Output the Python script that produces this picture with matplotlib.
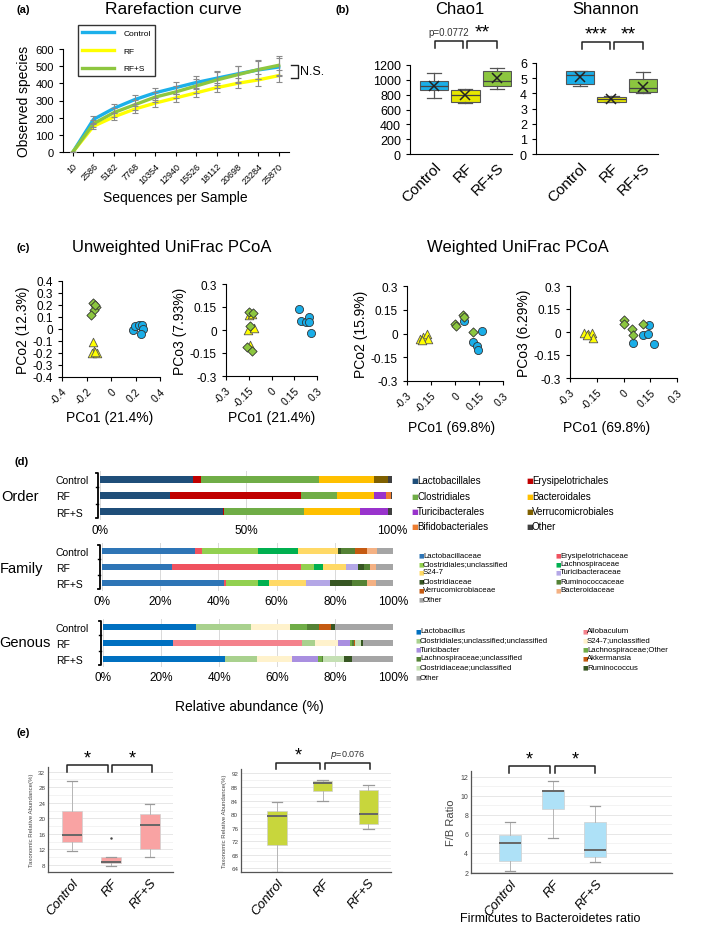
import numpy as np
import matplotlib
matplotlib.use('Agg')
import matplotlib.pyplot as plt
from matplotlib.lines import Line2D

plt.rcParams['font.family'] = ['Liberation Sans', 'DejaVu Sans']
plt.rcParams['axes.linewidth'] = 0.8

# ---------------- data ----------------
groups = ['Control', 'RF', 'RF+S']
grp_colors = ['#1cb0ea', '#ffff00', '#8dc63f']
box_colors_b = ['#1aaee8', '#e6e600', '#8cc63f']

# (a) rarefaction
seq_depth = ['10', '2586', '5182', '7768', '10354', '12940', '15526',
             '18112', '20698', '23284', '25870']
rare_ctrl = [0, 190, 255, 305, 345, 375, 405, 430, 455, 478, 495]
rare_rf = [0, 150, 205, 250, 285, 315, 345, 375, 400, 420, 445]
rare_rfs = [0, 165, 230, 275, 320, 350, 385, 420, 450, 480, 505]
err_ctrl = [0, 20, 25, 25, 30, 35, 38, 40, 45, 50, 50]
err_rf = [0, 15, 20, 20, 20, 25, 25, 25, 30, 35, 35]
err_rfs = [0, 20, 25, 28, 30, 35, 40, 45, 50, 55, 55]

# (b) alpha diversity boxes
chao1_lo = [760, 690, 870]
chao1_q1 = [860, 700, 920]
chao1_med = [920, 790, 985]
chao1_q3 = [990, 860, 1115]
chao1_hi = [1090, 880, 1165]
chao1_mean = [920, 790, 1020]
shan_lo = [4.5, 3.4, 4.05]
shan_q1 = [4.6, 3.45, 4.1]
shan_med = [5.2, 3.6, 4.35]
shan_q3 = [5.45, 3.75, 4.92]
shan_hi = [5.5, 3.8, 5.38]
shan_mean = [5.05, 3.6, 4.45]

# (c) PCoA coordinates
uw_ctrl_pc1 = [0.18, 0.196, 0.23, 0.25, 0.26, 0.245]
uw_ctrl_pc2 = [-0.01, 0.025, 0.033, 0.033, 0.0, -0.04]
uw_ctrl_pc3 = [0.137, 0.06, 0.052, 0.085, -0.02, 0.055]
uw_rf_pc1 = [-0.15, -0.14, -0.155, -0.115, -0.13]
uw_rf_pc2 = [-0.11, -0.18, -0.2, -0.2, -0.19]
uw_rf_pc3 = [0.1, -0.1, 0.0, 0.01, 0.105]
uw_rfs_pc1 = [-0.15, -0.12, -0.14, -0.16, -0.13]
uw_rfs_pc2 = [0.22, 0.18, 0.16, 0.12, 0.2]
uw_rfs_pc3 = [0.118, 0.11, 0.025, -0.11, -0.14]

w_ctrl_pc1 = [0.055, 0.11, 0.135, 0.145, 0.17]
w_ctrl_pc2 = [0.08, -0.055, -0.08, -0.105, 0.015]
w_ctrl_pc3 = [-0.07, -0.02, -0.015, 0.045, -0.08]
w_rf_pc1 = [-0.22, -0.2, -0.175, -0.17, -0.205]
w_rf_pc2 = [-0.035, -0.02, 0.0, -0.035, -0.04]
w_rf_pc3 = [-0.005, -0.01, -0.005, -0.04, -0.02]
w_rfs_pc1 = [0.0, 0.005, 0.05, 0.055, 0.11]
w_rfs_pc2 = [0.06, 0.045, 0.12, 0.105, 0.01]
w_rfs_pc3 = [0.076, 0.05, 0.02, -0.02, 0.05]

# (d) relative abundance (%)
order_taxa = ['Lactobacillales', 'Erysipelotrichales', 'Clostridiales', 'Bacteroidales',
              'Turicibacterales', 'Verrucomicrobiales', 'Bifidobacteriales', 'Other']
order_colors = ['#1f4e79', '#c00000', '#70ad47', '#ffc000',
                '#9933cc', '#7f6000', '#ed7d31', '#404040']
order_ctrl = [32, 2.5, 40.5, 19, 0, 4.5, 0, 1.5]
order_rf = [24, 45, 12, 13, 4, 0, 1.5, 0.5]
order_rfs = [42, 0.5, 27.5, 19, 9.5, 0, 0, 1.5]

family_taxa = ['Lactobacillaceae', 'Erysipelotrichaceae', 'Clostridiales;unclassified',
               'Lachnospiraceae', 'S24-7', 'Turicibacteraceae', 'Clostridiaceae',
               'Ruminococcaceae', 'Verrucomicrobiaceae', 'Bacteroidaceae', 'Other']
family_colors = ['#2e75b6', '#f0525f', '#92d050', '#00b050', '#ffd966', '#b4a7e6',
                 '#375623', '#548235', '#c55a11', '#f4b183', '#a5a5a5']
family_ctrl = [32, 2.5, 19, 14, 13.5, 0, 1, 5, 4, 3.5, 5.5]
family_rf = [24, 44.5, 4.5, 3, 8, 4, 2, 2, 0, 2, 6]
family_rfs = [42, 0.5, 11, 4, 12.5, 8.5, 7.5, 5, 0, 3, 6]

genus_taxa = ['Lactobacillus', 'Allobaculum', 'Clostridiales;unclassified;unclassified',
              'S24-7;unclassified', 'Turicibacter', 'Lachnospiraceae;Other',
              'Lachnospiraceae;unclassified', 'Akkermansia', 'Clostridiaceae;unclassified',
              'Ruminococcus', 'Other']
genus_colors = ['#0070c0', '#f4828c', '#a9d18e', '#fff2cc', '#a98fe0', '#70ad47',
                '#548235', '#c55a11', '#c5e0b4', '#375623', '#a5a5a5']
genus_ctrl = [32, 0, 19, 13.5, 0, 6, 4, 4, 0, 1.5, 20]
genus_rf = [24, 44.5, 4.5, 8, 4, 1, 0.5, 0.5, 2, 0.5, 10.5]
genus_rfs = [42, 0, 11, 12, 9, 1.5, 0.5, 0, 7, 3, 14]

# (e) phylum-level boxes
e1_lo = [11.5, 7.8, 10.0]
e1_q1 = [13.8, 8.4, 12.0]
e1_med = [15.8, 8.7, 18.2]
e1_q3 = [22.0, 10.0, 21.2]
e1_hi = [29.5, 10.1, 23.8]
e1_out = [[], [15.0], []]
e2_lo = [63, 84, 75.5]
e2_q1 = [71, 86.8, 77]
e2_med = [79.5, 89.2, 80]
e2_q3 = [81, 89.8, 87]
e2_hi = [83.5, 90, 88.5]
e3_lo = [2.1, 5.6, 3.1]
e3_q1 = [3.2, 8.6, 3.6]
e3_med = [5.0, 10.55, 4.35]
e3_q3 = [5.9, 10.65, 7.2]
e3_hi = [7.2, 11.6, 8.9]

# ---------------- figure helpers ----------------
W, H = 709, 928
fig = plt.figure(figsize=(W / 100, H / 100), dpi=100)


def add_ax(l, t, r, b):
    return fig.add_axes([l / W, 1 - b / H, (r - l) / W, (b - t) / H])


def ftext(x, y, s, **kw):
    kw.setdefault('va', 'center')
    fig.text(x / W, 1 - y / H, s, **kw)


def fline(xs, ys, **kw):
    fig.add_artist(Line2D([x / W for x in xs], [1 - y / H for y in ys], **kw))


def bracket(ax, x1, x2, y, h, text, ty, fs, **kw):
    ax.plot([x1, x1, x2, x2], [y - h, y, y, y - h], color='#222222', lw=1.1, clip_on=False)
    ax.text((x1 + x2) / 2, ty, text, ha='center', va='center', fontsize=fs, **kw)


def make_stats(lo, q1, med, q3, hi, mean=None, fliers=None):
    out = []
    for i in range(len(lo)):
        d = dict(whislo=lo[i], q1=q1[i], med=med[i], q3=q3[i], whishi=hi[i],
                 fliers=fliers[i] if fliers else [])
        if mean is not None:
            d['mean'] = mean[i]
        out.append(d)
    return out


def simple_spines(ax):
    ax.spines['top'].set_visible(False)
    ax.spines['right'].set_visible(False)


# ---------------- (a) rarefaction ----------------
ftext(23, 10, '(a)', fontsize=8, fontweight='bold', ha='center')
ftext(173, 10, 'Rarefaction curve', fontsize=12.5, ha='center')
ax = add_ax(63, 50, 289, 153)
x = np.arange(len(seq_depth))
lines = []
for vals, col, lab in zip([rare_ctrl, rare_rf, rare_rfs], grp_colors, groups):
    ln, = ax.plot(x, vals, color=col, lw=2.4, label=lab, zorder=2)
    lines.append(ln)
for vals, err in zip([rare_ctrl, rare_rf, rare_rfs], [err_ctrl, err_rf, err_rfs]):
    ax.errorbar(x, vals, yerr=err, fmt='none', ecolor='#8a8a8a', elinewidth=0.8,
                capsize=2.2, capthick=0.8, zorder=3)
ax.set_xlim(-0.48, 10.5)
ax.set_ylim(0, 600)
ax.set_yticks(range(0, 601, 100))
ax.set_xticks(x, seq_depth, rotation=45, ha='right', rotation_mode='anchor', fontsize=6.5)
ax.tick_params(axis='y', labelsize=8, length=3)
ax.tick_params(axis='x', length=3)
simple_spines(ax)
ax.set_ylabel('Observed species', fontsize=10, labelpad=3)
ftext(175, 198, 'Sequences per Sample', fontsize=10, ha='center')
fig.legend(handles=lines, loc='upper left', bbox_to_anchor=(74 / W, 1 - 22 / H),
           fontsize=6, frameon=True, fancybox=False, edgecolor='black',
           handlelength=3.8, labelspacing=1.2, borderpad=0.45, handletextpad=1.2)
# N.S. bracket
ax.plot([10.58, 10.95, 10.95, 10.58], [507, 507, 432, 432], color='#222222', lw=1, clip_on=False)
ax.text(11.05, 470, 'N.S.', fontsize=9, va='center', ha='left')

# ---------------- (b) alpha diversity ----------------
ftext(343, 10, '(b)', fontsize=8, fontweight='bold', ha='center')


def alpha_box(ax, stats, ylim, yticks):
    bp = ax.bxp(stats, positions=[0, 1, 2], widths=0.9, patch_artist=True, showmeans=True,
                showfliers=False,
                boxprops=dict(edgecolor='#555555', linewidth=0.8),
                medianprops=dict(color='#444444', linewidth=0.9),
                whiskerprops=dict(color='#555555', linewidth=0.9),
                capprops=dict(color='#555555', linewidth=0.9),
                meanprops=dict(marker='x', markeredgecolor='#222222', markersize=7,
                               markeredgewidth=1.1))
    for patch, c in zip(bp['boxes'], box_colors_b):
        patch.set_facecolor(c)
    ax.set_ylim(*ylim)
    ax.set_yticks(yticks)
    ax.set_xticks([0, 1, 2], groups, rotation=45, ha='right', rotation_mode='anchor',
                  fontsize=11)
    ax.tick_params(axis='y', labelsize=9, length=3)
    ax.tick_params(axis='x', length=0, pad=4)
    simple_spines(ax)


ftext(460, 10, 'Chao1', fontsize=12, ha='center')
ax = add_ax(410, 66, 512, 155)
alpha_box(ax, make_stats(chao1_lo, chao1_q1, chao1_med, chao1_q3, chao1_hi, chao1_mean),
          (0, 1200), range(0, 1201, 200))
ax.set_xlim(-0.76, 2.48)
bracket(ax, 0.03, 0.92, 1523, 95, 'p=0.0772', 1640, 7, color='#333333')
bracket(ax, 1.05, 2.0, 1523, 95, '**', 1640, 14)

ftext(606, 10, 'Shannon', fontsize=12, ha='center')
ax = add_ax(536, 64, 658, 155)
alpha_box(ax, make_stats(shan_lo, shan_q1, shan_med, shan_q3, shan_hi, shan_mean),
          (0, 6), range(0, 7))
ax.set_xlim(-1.4, 2.48)
bracket(ax, 0.06, 0.95, 7.4, 0.45, '***', 7.9, 14)
bracket(ax, 1.07, 1.99, 7.4, 0.45, '**', 7.9, 14)

# ---------------- (c) PCoA ----------------
ftext(23, 248, '(c)', fontsize=8, fontweight='bold', ha='center')
ftext(172, 248, 'Unweighted UniFrac PCoA', fontsize=12, ha='center')
ftext(518, 248, 'Weighted UniFrac PCoA', fontsize=12, ha='center')


def pcoa(box, xs, ys, lim, ticks, ylab, xlab, xlab_x, xlab_y):
    ax = add_ax(*box)
    specs = [('o', '#1aaee8', 34, '#333333'), ('^', '#ffff00', 38, '#555555'),
             ('D', '#8cc63f', 22, '#333333')]
    for (m, c, s, ec), xv, yv in zip(specs, xs, ys):
        ax.scatter(xv, yv, marker=m, s=s, color=c, edgecolors=ec, linewidths=0.6, zorder=3)
    ax.set_xlim(-lim, lim)
    ax.set_ylim(-lim, lim)
    ax.set_xticks(ticks, [f'{t:g}' for t in ticks], rotation=45, ha='right',
                  rotation_mode='anchor', fontsize=7.5)
    ax.set_yticks(ticks, [f'{t:g}' for t in ticks], fontsize=8.5)
    ax.tick_params(length=3)
    simple_spines(ax)
    ax.set_ylabel(ylab, fontsize=10, labelpad=2)
    ftext(xlab_x, xlab_y, xlab, fontsize=10, ha='center')
    return ax


t4 = [-0.4, -0.3, -0.2, -0.1, 0, 0.1, 0.2, 0.3, 0.4]
t3 = [-0.3, -0.15, 0, 0.15, 0.3]
ax = pcoa((62, 282, 160, 378), [uw_ctrl_pc1, uw_rf_pc1, uw_rfs_pc1],
          [uw_ctrl_pc2, uw_rf_pc2, uw_rfs_pc2], 0.4, t4, 'PCo2 (12.3%)', 'PCo1 (21.4%)', 110, 418)
ax.set_xticks([-0.4, -0.2, 0, 0.2, 0.4], ['-0.4', '-0.2', '0', '0.2', '0.4'], rotation=45,
              ha='right', rotation_mode='anchor', fontsize=7.5)
pcoa((226, 285, 317, 377), [uw_ctrl_pc1, uw_rf_pc1, uw_rfs_pc1],
     [uw_ctrl_pc3, uw_rf_pc3, uw_rfs_pc3], 0.3, t3, 'PCo3 (7.93%)', 'PCo1 (21.4%)', 272, 418)
pcoa((407, 287, 503, 382), [w_ctrl_pc1, w_rf_pc1, w_rfs_pc1],
     [w_ctrl_pc2, w_rf_pc2, w_rfs_pc2], 0.3, t3, 'PCo2 (15.9%)', 'PCo1 (69.8%)', 452, 428)
pcoa((570, 287, 677, 379), [w_ctrl_pc1, w_rf_pc1, w_rfs_pc1],
     [w_ctrl_pc3, w_rf_pc3, w_rfs_pc3], 0.3, t3, 'PCo3 (6.29%)', 'PCo1 (69.8%)', 607, 428)

# ---------------- (d) taxonomic composition ----------------
ftext(22, 462, '(d)', fontsize=8, fontweight='bold', ha='center')


def stack_panel(box, data, colors, ticks, tick_labels, level, level_x, level_y):
    ax = add_ax(*box)
    left = np.zeros(3)
    for i, c in enumerate(colors):
        vals = np.array([d[i] for d in data])
        ax.barh([0, 1, 2], vals, left=left, height=0.42, color=c, zorder=2)
        left += vals
    ax.set_xlim(0, 100)
    ax.set_ylim(2.5, -0.5)
    ax.set_xticks(ticks, tick_labels, fontsize=8.5)
    ax.xaxis.grid(True, color='#d9d9d9', lw=0.7, zorder=0)
    ax.tick_params(axis='x', length=0, pad=3)
    ax.set_yticks([0, 1, 2], groups, fontsize=7.5)
    ax.tick_params(axis='y', length=0, pad=(box[0] - 56) * 0.72)
    for lbl in ax.get_yticklabels():
        lbl.set_ha('left')
    for s in ax.spines.values():
        s.set_visible(False)
    # left brace
    l, t, r, b = box
    fline([l - 4, l - 2, l - 2, l - 4], [t + 2, t + 2, b - 2, b - 2], color='black', lw=1.3)
    for yy in (t + (b - t) / 3, t + 2 * (b - t) / 3):
        fline([l - 4, l - 2], [yy, yy], color='black', lw=1.0)
    ftext(level_x, level_y, level, fontsize=10.5, ha='left')
    return ax


def square_legend(labels, colors, xcols, yrows, fs, gap):
    for i, (lab, c) in enumerate(zip(labels, colors)):
        xx = xcols[i % 2]
        yy = yrows[i // 2]
        ftext(xx, yy, '\u25a0', color=c, fontsize=fs * 0.75, ha='left', family='DejaVu Sans')
        ftext(xx + gap, yy, lab, fontsize=fs, ha='left')


stack_panel((100, 472, 392, 521), [order_ctrl, order_rf, order_rfs], order_colors,
            [0, 50, 100], ['0%', '50%', '100%'], 'Order', 1, 497)
square_legend(order_taxa, order_colors, [411, 526], [481, 497, 512, 527], 7, 6)

pct = [0, 20, 40, 60, 80, 100]
pct_lab = [f'{p}%' for p in pct]
stack_panel((102, 544, 393, 592), [family_ctrl, family_rf, family_rfs], family_colors,
            pct, pct_lab, 'Family', 0, 569)
square_legend(family_taxa, family_colors, [418, 555], [556, 565, 573, 582, 591, 600], 5.6, 5)

stack_panel((103, 620, 393, 668), [genus_ctrl, genus_rf, genus_rfs], genus_colors,
            pct, pct_lab, 'Genous', -1, 643)
square_legend(genus_taxa, genus_colors, [415, 582], [632, 641, 650, 659, 668, 678], 5.6, 5)
ftext(249, 707, 'Relative abundance (%)', fontsize=10, ha='center')

# ---------------- (e) phylum boxes ----------------
ftext(23, 733, '(e)', fontsize=8, fontweight='bold', ha='center')


def phylum_box(box, stats, color, xlim, ylim, yticks, width, ylab, ylab_fs, tick_fs):
    ax = add_ax(*box)
    bp = ax.bxp(stats, positions=[0, 1, 2], widths=width, patch_artist=True,
                showfliers=True,
                boxprops=dict(edgecolor='#d0d0d0', linewidth=0.5),
                medianprops=dict(color='#666666', linewidth=1.4),
                whiskerprops=dict(color='#b5b5b5', linewidth=0.7),
                capprops=dict(color='#9a9a9a', linewidth=0.9),
                flierprops=dict(marker='.', markersize=1.5, markerfacecolor='#444444',
                                markeredgecolor='#444444'))
    for patch in bp['boxes']:
        patch.set_facecolor(color)
    for cap in bp['caps']:
        m = cap.get_xdata().mean()
        cap.set_xdata([m - 0.12, m + 0.12])
    ax.set_xlim(*xlim)
    ax.set_ylim(*ylim)
    ax.set_yticks(yticks)
    ax.set_yticks([(a + b) / 2 for a, b in zip(yticks[:-1], yticks[1:])], minor=True)
    ax.yaxis.grid(True, which='major', color='#e3e3e3', lw=0.6, zorder=0)
    ax.yaxis.grid(True, which='minor', color='#efefef', lw=0.5, zorder=0)
    ax.set_axisbelow(True)
    ax.tick_params(axis='y', which='both', length=0, labelsize=tick_fs, colors='#444444', pad=2)
    ax.set_xticks([0, 1, 2], groups, rotation=50, ha='right', rotation_mode='anchor',
                  fontsize=9.5, fontstyle='italic')
    ax.tick_params(axis='x', length=0, pad=3)
    simple_spines(ax)
    for s in ('left', 'bottom'):
        ax.spines[s].set_color('#555555')
        ax.spines[s].set_linewidth(0.9)
    ax.set_ylabel(ylab, fontsize=ylab_fs, color='#444444', labelpad=3)
    return ax


ax = phylum_box((48, 768, 173, 873), make_stats(e1_lo, e1_q1, e1_med, e1_q3, e1_hi, fliers=e1_out),
                '#f9a3a3', (-0.62, 2.6), (6.2, 33.2), [8, 12, 16, 20, 24, 28, 32], 0.52,
                'Taxonomic Relative Abundance(%)', 4.3, 4.5)
bracket(ax, -0.12, 0.92, 33.8, 1.8, '*', 35.6, 13)
bracket(ax, 1.03, 2.05, 33.8, 1.8, '*', 35.6, 13)

ax = phylum_box((241, 770, 391, 873), make_stats(e2_lo, e2_q1, e2_med, e2_q3, e2_hi),
                '#c8d63c', (-0.79, 2.5), (62.9, 93.3), [64, 68, 72, 76, 80, 84, 88, 92], 0.42,
                'Taxonomic Relative Abundance(%)', 4.3, 4.5)
bracket(ax, -0.02, 0.95, 95.2, 2.0, '*', 97.4, 13)
bracket(ax, 1.05, 2.03, 95.2, 2.0, r'$p$=0.076', 97.6, 6.5, color='#333333')

ax = phylum_box((471, 772, 672, 874), make_stats(e3_lo, e3_q1, e3_med, e3_q3, e3_hi),
                '#aee1f7', (-0.92, 3.8), (1.9, 12.6), [2, 4, 6, 8, 10, 12], 0.52,
                'F/B Ratio', 8, 5)
bracket(ax, -0.03, 0.93, 13.16, 0.75, '*', 13.9, 13)
bracket(ax, 1.06, 2.0, 13.16, 0.75, '*', 13.9, 13)
ftext(550, 919, 'Firmicutes to Bacteroidetes ratio', fontsize=9, ha='center')

fig.savefig('out.png', dpi=100)
